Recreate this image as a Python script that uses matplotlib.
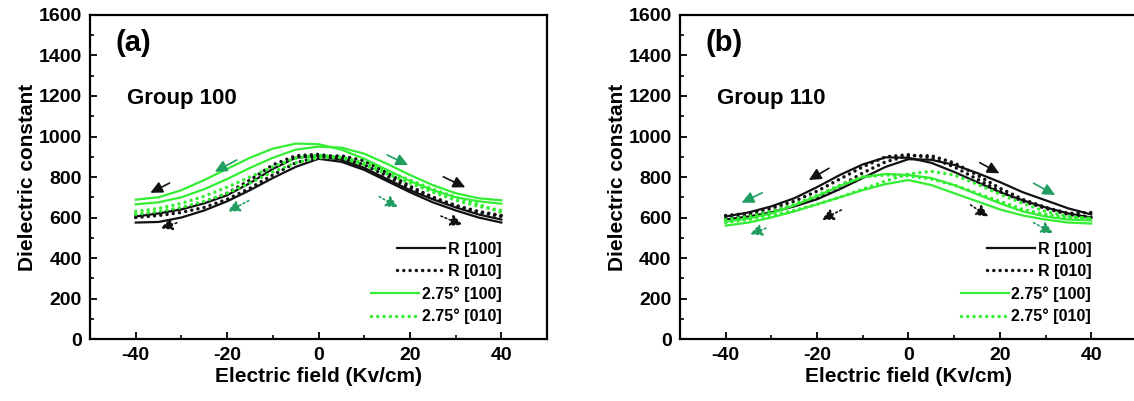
import numpy as np
import matplotlib.pyplot as plt

plt.rcParams['font.family'] = ['Liberation Sans', 'DejaVu Sans']
plt.rcParams['font.weight'] = 'bold'
plt.rcParams['axes.unicode_minus'] = False

# electric field sweep points (kV/cm)
field = [-40, -35, -30, -25, -20, -15, -10, -5, 0, 5, 10, 15, 20, 25, 30, 35, 40]

# ---- Group 100 (panel a), two sweep branches per curve ----
a_r100_1 = [605, 620, 640, 670, 710, 770, 840, 895, 905, 885, 845, 790, 735, 690, 650, 615, 590]
a_r100_2 = [575, 578, 600, 635, 680, 735, 795, 850, 890, 875, 835, 780, 725, 675, 635, 600, 575]
a_r010_1 = [610, 625, 645, 675, 720, 785, 860, 905, 912, 895, 860, 805, 745, 700, 660, 630, 610]
a_r010_2 = [600, 610, 625, 650, 690, 745, 810, 870, 900, 905, 880, 820, 755, 700, 655, 625, 605]
a_g100_1 = [688, 700, 735, 785, 840, 895, 940, 965, 962, 935, 890, 835, 780, 735, 700, 680, 668]
a_g100_2 = [665, 675, 700, 740, 790, 845, 895, 935, 950, 945, 915, 865, 810, 760, 720, 695, 685]
a_g010_1 = [630, 645, 670, 705, 750, 800, 850, 893, 908, 895, 860, 815, 770, 725, 685, 655, 635]
a_g010_2 = [615, 630, 650, 680, 720, 770, 825, 870, 895, 898, 870, 830, 785, 740, 700, 665, 625]

# ---- Group 110 (panel b) ----
b_r100_1 = [605, 625, 655, 695, 750, 810, 862, 897, 895, 870, 825, 775, 725, 685, 650, 620, 600]
b_r100_2 = [590, 605, 625, 655, 690, 740, 795, 850, 888, 885, 860, 820, 775, 725, 685, 645, 615]
b_r010_1 = [610, 620, 645, 680, 730, 790, 850, 900, 910, 895, 850, 790, 730, 680, 645, 615, 600]
b_r010_2 = [595, 610, 630, 660, 700, 755, 820, 875, 905, 905, 870, 810, 745, 690, 650, 620, 625]
b_g100_1 = [580, 595, 620, 660, 705, 755, 800, 815, 810, 795, 760, 715, 670, 630, 605, 590, 585]
b_g100_2 = [560, 575, 600, 630, 665, 700, 735, 765, 785, 760, 720, 680, 640, 610, 590, 575, 570]
b_g010_1 = [590, 605, 630, 665, 710, 760, 800, 810, 805, 790, 760, 720, 680, 640, 615, 600, 595]
b_g010_2 = [575, 590, 610, 635, 665, 700, 740, 780, 815, 828, 810, 765, 715, 670, 630, 605, 595]

labels = ['R [100]', 'R [010]', '2.75\u00b0 [100]', '2.75\u00b0 [010]']

# sweep-direction arrows: (tail_x, tail_y, head_x, head_y, colour key, dotted)
a_arrows = [(-32.6, 770, -36.8, 722, 'k', False), (-31, 574, -34.6, 547, 'k', True),
            (-17.9, 884, -22.7, 826, 'g', False), (-15.3, 683, -19.9, 629, 'g', True),
            (15, 909, 19.6, 859, 'g', False), (13.3, 703, 17.4, 650, 'g', True),
            (27.3, 801, 32.1, 749, 'k', False), (26.8, 607, 31.5, 563, 'k', True)]
b_arrows = [(-17.4, 843, -21.8, 785, 'k', False), (-14.7, 637, -19, 588, 'k', True),
            (-32, 722, -36.5, 673, 'g', False), (-31.2, 547, -34.7, 517, 'g', True),
            (15.6, 871, 19.9, 818, 'k', False), (13.6, 662, 17.5, 604, 'k', True),
            (27.4, 769, 32.1, 711, 'g', False), (27.4, 574, 31.7, 522, 'g', True)]

black = '#111111'
green = '#33ee33'
arrow_green = '#1f9e60'
dot = (0, (0.01, 1.8))


def draw_panel(ax, curves, arrows, tag, group):
    styles = [(black, '-'), (black, dot), (green, '-'), (green, dot)]
    for (b1, b2), (col, ls), lab in zip(curves, styles, labels):
        lw = 1.6 if ls == '-' else 2.5
        ax.plot(field, b1, color=col, ls=ls, lw=lw, label=lab, dash_capstyle='round')
        ax.plot(field, b2, color=col, ls=ls, lw=lw, dash_capstyle='round')
    for tx, ty, hx, hy, c, dotted in arrows:
        col = black if c == 'k' else arrow_green
        ax.annotate('', xy=(hx, hy), xytext=(tx, ty),
                    arrowprops=dict(arrowstyle='-|>,head_length=0.45,head_width=0.22',
                                    color=col, lw=1.2,
                                    linestyle=':' if dotted else '-',
                                    mutation_scale=16, shrinkA=0, shrinkB=0))
    ax.set_xlim(-50, 50)
    ax.set_ylim(0, 1600)
    ax.set_xticks([-40, -20, 0, 20, 40])
    ax.set_xticks([-30, -10, 10, 30], minor=True)
    ax.set_yticks(np.arange(0, 1601, 200))
    ax.set_yticks(np.arange(100, 1600, 200), minor=True)
    ax.tick_params(direction='in', which='major', length=5, width=1.3, labelsize=14, pad=6)
    ax.tick_params(direction='in', which='minor', length=3, width=1.2)
    for lab in ax.get_xticklabels() + ax.get_yticklabels():
        lab.set_fontweight('bold')
    for s in ax.spines.values():
        s.set_linewidth(1.6)
    ax.set_xlabel('Electric field (Kv/cm)', fontsize=15, fontweight='bold', labelpad=2)
    ax.set_ylabel('Dielectric constant', fontsize=15, fontweight='bold', labelpad=1)
    ax.text(-44.5, 1462, tag, fontsize=21, fontweight='bold', va='center')
    ax.text(-42, 1190, group, fontsize=16, fontweight='bold', va='center')
    leg = ax.legend(loc='lower right', bbox_to_anchor=(0.9, 0.045), frameon=False,
                    fontsize=11.5, handlelength=3.0, handletextpad=0.15,
                    labelspacing=0.45, borderpad=0, borderaxespad=0)
    leg._legend_handle_box.get_children()[0].align = 'right'
    for t in leg.get_texts():
        t.set_fontweight('bold')


fig = plt.figure(figsize=(11.34, 4.01), dpi=100)
ax1 = fig.add_axes([0.0794, 0.1546, 0.403, 0.808])
ax2 = fig.add_axes([0.5996, 0.1546, 0.403, 0.808])

draw_panel(ax1, [(a_r100_1, a_r100_2), (a_r010_1, a_r010_2),
                 (a_g100_1, a_g100_2), (a_g010_1, a_g010_2)], a_arrows, '(a)', 'Group 100')
draw_panel(ax2, [(b_r100_1, b_r100_2), (b_r010_1, b_r010_2),
                 (b_g100_1, b_g100_2), (b_g010_1, b_g010_2)], b_arrows, '(b)', 'Group 110')

fig.savefig('out.png', dpi=100)
